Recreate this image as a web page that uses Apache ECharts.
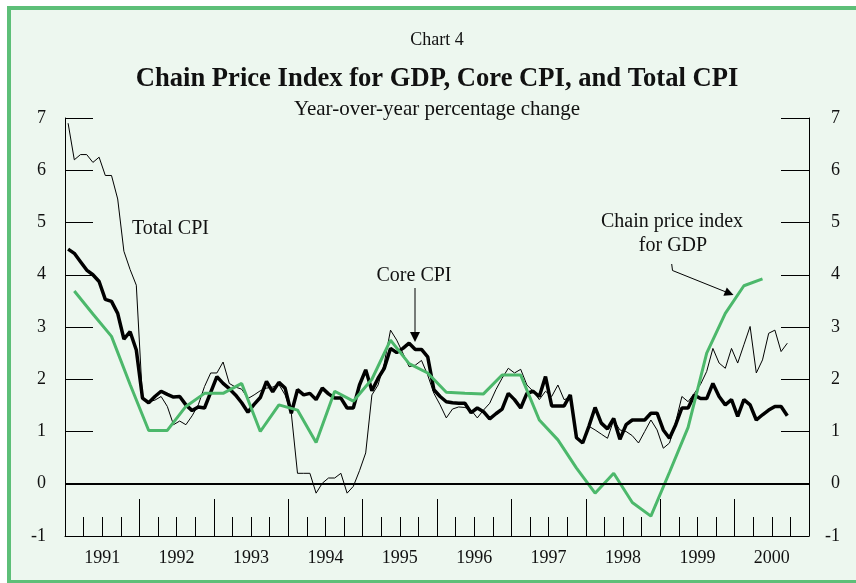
<!DOCTYPE html>
<html>
<head>
<meta charset="utf-8">
<script src="https://cdn.jsdelivr.net/npm/echarts@6/dist/echarts.min.js"></script>
<style>
  html, body { margin: 0; padding: 0; background: #fff; overflow: hidden; width: 856px; height: 583px; }
  #frame {
    position: absolute; left: 7px; top: 6px; width: 870px; height: 577px;
    box-sizing: border-box; background: #edf7ef;
    border-left: 4px solid #5dbf78; border-top: 4px solid #5dbf78; border-bottom: 3px solid #5dbf78;
    border-right: none;
  }
  #chart { position: absolute; left: 0; top: 0; width: 856px; height: 583px; }
</style>
</head>
<body>
<div id="frame"></div>
<div id="chart"></div>
<script>
const FONT = 'Liberation Serif'

const years = ['1991', '1992', '1993', '1994', '1995', '1996', '1997', '1998', '1999', '2000']

// monthly, Jan 1991 - Sep 2000
const totalCpi = [
  6.9, 6.2, 6.3, 6.3, 6.15, 6.25, 5.9, 5.9, 5.45, 4.45, 4.1, 3.8,
  1.62, 1.57, 1.6, 1.67, 1.48, 1.13, 1.2, 1.13, 1.3, 1.51, 1.86, 2.12,
  2.12, 2.33, 1.92, 1.85, 1.81, 1.63, 1.7, 1.78, 1.83, 1.85, 1.9, 1.7,
  1.35, 0.2, 0.2, 0.2, -0.18, 0.01, 0.11, 0.11, 0.2, -0.18, -0.05, 0.25,
  0.59, 1.7, 1.89, 2.31, 2.94, 2.75, 2.5, 2.24, 2.27, 2.36, 2.08, 1.73,
  1.51, 1.26, 1.43, 1.47, 1.46, 1.41, 1.26, 1.41, 1.54, 1.8, 2.02, 2.21,
  2.12, 2.19, 1.89, 1.77, 1.61, 1.77, 1.67, 1.89, 1.61, 1.65, 0.9, 0.8,
  1.1, 1.03, 0.95, 0.87, 1.22, 1.03, 1.0, 0.92, 0.78, 1.0, 1.22, 1.03,
  0.68, 0.78, 1.18, 1.67, 1.57, 1.73, 1.9, 2.15, 2.59, 2.31, 2.21, 2.59,
  2.31, 2.66, 3.01, 2.12, 2.37, 2.88, 2.94, 2.53, 2.69
]

const coreCpi = [
  4.49, 4.41, 4.25, 4.09, 4.0, 3.87, 3.53, 3.49, 3.26, 2.77, 2.91, 2.56,
  1.64, 1.55, 1.67, 1.77, 1.71, 1.66, 1.67, 1.51, 1.4, 1.47, 1.45, 1.75,
  2.05, 1.92, 1.82, 1.7, 1.55, 1.37, 1.52, 1.65, 1.96, 1.76, 1.94, 1.83,
  1.35, 1.8, 1.7, 1.73, 1.61, 1.83, 1.72, 1.64, 1.64, 1.45, 1.45, 1.89,
  2.18, 1.78, 2.02, 2.21, 2.59, 2.51, 2.59, 2.69, 2.57, 2.57, 2.43, 1.8,
  1.67, 1.57, 1.55, 1.54, 1.54, 1.36, 1.45, 1.38, 1.24, 1.34, 1.43, 1.73,
  1.61, 1.45, 1.73, 1.77, 1.67, 2.05, 1.49, 1.49, 1.49, 1.7, 0.88, 0.78,
  1.1, 1.46, 1.16, 1.05, 1.25, 0.85, 1.13, 1.22, 1.22, 1.22, 1.35, 1.35,
  1.03, 0.87, 1.13, 1.45, 1.45, 1.7, 1.63, 1.63, 1.92, 1.67, 1.51, 1.61,
  1.29, 1.61, 1.51, 1.22, 1.32, 1.41, 1.48, 1.48, 1.3
]

// quarterly, 1991Q1 - 2000Q2
const gdpPrice = [
  3.69, 3.25, 2.82, 1.9,
  1.02, 1.02, 1.48, 1.73,
  1.73, 1.92, 1.0, 1.51,
  1.41, 0.79, 1.77, 1.58,
  2.0, 2.75, 2.3, 2.12,
  1.75, 1.73, 1.72, 2.08,
  2.08, 1.22, 0.84, 0.3,
  -0.18, 0.2, -0.36, -0.62,
  0.22, 1.08, 2.5, 3.26,
  3.79, 3.92
]

const GREEN = '#4cb86b'

const chart = echarts.init(document.getElementById('chart'), null, { renderer: 'canvas' })

// x axis counts months from Jan 1991, points sit mid-month / mid-quarter
const monthly = arr => arr.map((v, i) => [i + 0.5, v])
const quarterly = arr => arr.map((v, q) => [q * 3 + 1.5, v])

const yAxisBase = {
  type: 'value',
  min: -1,
  max: 7,
  interval: 1,
  axisLine: { show: true, onZero: false, lineStyle: { color: '#000', width: 1 } },
  axisTick: { show: true, inside: true, length: 28, lineStyle: { color: '#000', width: 1 } },
  splitLine: { show: false }
}

const labelStyle = { fontFamily: FONT, fontSize: 18, color: '#111' }

const option = {
  animation: false,
  textStyle: { fontFamily: FONT },
  title: [
    {
      text: 'Chart 4', left: 437, top: 31, textAlign: 'center', padding: 0,
      textStyle: { fontFamily: FONT, fontSize: 18, fontWeight: 'normal', color: '#111' }
    },
    {
      text: 'Chain Price Index for GDP, Core CPI, and Total CPI', left: 437, top: 66, textAlign: 'center', padding: 0,
      textStyle: { fontFamily: FONT, fontSize: 26.6, fontWeight: 'bold', color: '#111' }
    },
    {
      text: 'Year-over-year percentage change', left: 437, top: 99, textAlign: 'center', padding: 0,
      textStyle: { fontFamily: FONT, fontSize: 21, fontWeight: 'normal', color: '#111' }
    }
  ],
  grid: { left: 65, right: 47, top: 118, bottom: 47 },
  xAxis: [
    {
      type: 'value',
      min: 0,
      max: 120,
      interval: 12,
      position: 'bottom',
      axisLine: { onZero: false, lineStyle: { color: '#000', width: 1 } },
      axisTick: { inside: true, length: 37, lineStyle: { color: '#000', width: 1 } },
      minorTick: { show: true, splitNumber: 4, length: 19, lineStyle: { color: '#000', width: 1 } },
      axisLabel: { show: false },
      splitLine: { show: false },
      minorSplitLine: { show: false }
    },
    {
      type: 'category',
      data: years,
      position: 'bottom',
      axisLine: { show: false, onZero: false },
      axisTick: { show: false },
      axisLabel: Object.assign({ margin: 13 }, labelStyle)
    }
  ],
  yAxis: [
    Object.assign({}, yAxisBase, {
      position: 'left',
      axisLabel: Object.assign({ margin: 19 }, labelStyle)
    }),
    Object.assign({}, yAxisBase, {
      position: 'right',
      axisLabel: Object.assign({ margin: 31, align: 'right' }, labelStyle)
    })
  ],
  series: [
    {
      name: 'Total CPI',
      type: 'line',
      data: monthly(totalCpi),
      symbol: 'none',
      z: 2,
      lineStyle: { color: '#000', width: 1 }
    },
    {
      name: 'Core CPI',
      type: 'line',
      data: monthly(coreCpi),
      symbol: 'none',
      z: 3,
      lineStyle: { color: '#000', width: 3.5 }
    },
    {
      name: 'Chain price index for GDP',
      type: 'line',
      data: quarterly(gdpPrice),
      symbol: 'none',
      z: 4,
      lineStyle: { color: GREEN, width: 3 },
      markLine: {
        silent: true,
        symbol: 'none',
        label: { show: false },
        lineStyle: { color: '#000', width: 2, type: 'solid' },
        data: [{ yAxis: 0 }]
      }
    }
  ],
  graphic: [
    {
      type: 'text', left: 132, top: 219,
      style: { text: 'Total CPI', font: '20px "Liberation Serif"', fill: '#111' }
    },
    {
      type: 'text', x: 414, y: 276,
      style: { text: 'Core CPI', font: '20px "Liberation Serif"', fill: '#111', align: 'center', verticalAlign: 'middle' }
    },
    {
      type: 'line', shape: { x1: 415, y1: 288, x2: 415, y2: 334 },
      style: { stroke: '#000', lineWidth: 1 }
    },
    {
      type: 'polygon', shape: { points: [[410, 332], [420, 332], [415, 342]] },
      style: { fill: '#000' }
    },
    {
      type: 'text', x: 672, y: 222,
      style: { text: 'Chain price index', font: '20px "Liberation Serif"', fill: '#111', align: 'center', verticalAlign: 'middle' }
    },
    {
      type: 'text', x: 673, y: 246,
      style: { text: 'for GDP', font: '20px "Liberation Serif"', fill: '#111', align: 'center', verticalAlign: 'middle' }
    },
    {
      type: 'polyline', shape: { points: [[671.7, 264], [672.5, 270.5], [727, 292.4]] },
      style: { stroke: '#000', lineWidth: 1, fill: null }
    },
    {
      type: 'polygon', shape: { points: [[733.5, 295], [723.4, 295.8], [726.8, 287.4]] },
      style: { fill: '#000' }
    }
  ]
}

chart.setOption(option)
</script>
</body>
</html>
